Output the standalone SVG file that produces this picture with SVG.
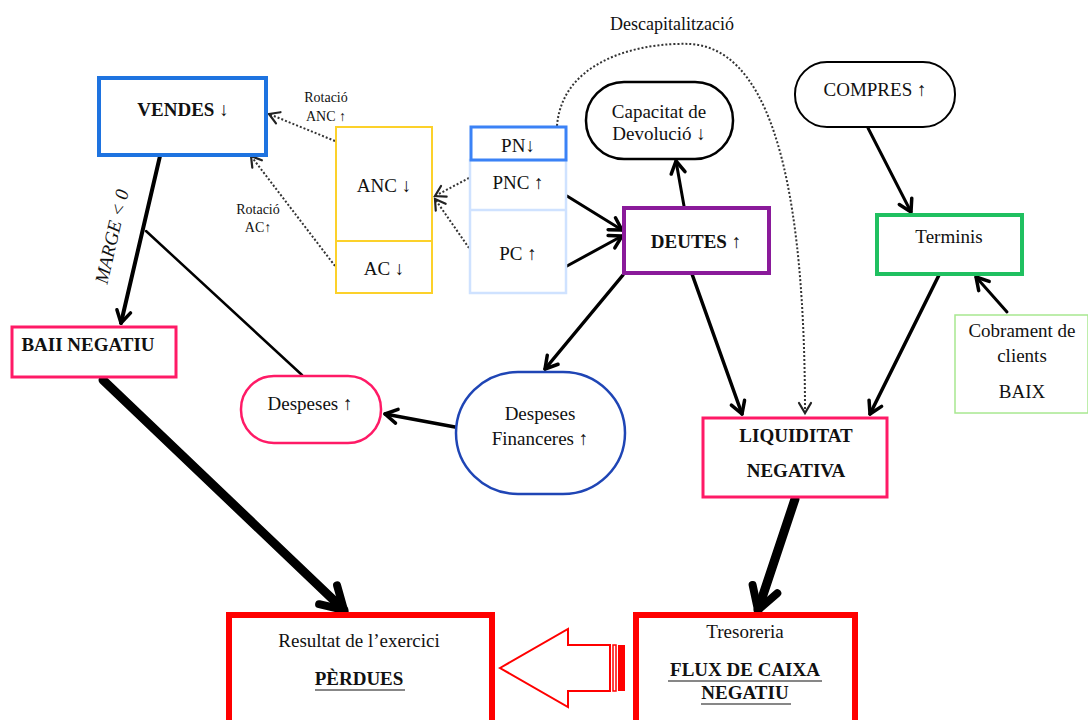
<svg xmlns="http://www.w3.org/2000/svg" width="1088" height="720" viewBox="0 0 1088 720">
<defs>
<style>
text{font-family:"Liberation Serif","Times New Roman",serif;fill:#111;text-anchor:middle}
.b{font-weight:bold}
.s{font-size:14px}
.m{font-size:19px}
.ln{stroke:#000;fill:none;stroke-linecap:round}
.dot{stroke:#333;fill:none;stroke-width:2;stroke-dasharray:2 2}
</style>
<marker id="ah" markerUnits="userSpaceOnUse" viewBox="-20 -15 25 30" markerWidth="25" markerHeight="30" refX="0" refY="0" orient="auto" overflow="visible">
<path d="M-12,-7 L0,0 L-12,7" fill="none" stroke="#000" stroke-width="3.5" stroke-linecap="round" stroke-linejoin="round"/>
</marker>
<marker id="ahd" markerUnits="userSpaceOnUse" viewBox="-20 -15 25 30" markerWidth="25" markerHeight="30" refX="0" refY="0" orient="auto" overflow="visible">
<path d="M-10,-6 L0,0 L-10,6" fill="none" stroke="#222" stroke-width="2.2" stroke-linecap="round"/>
</marker>
<marker id="ahb" markerUnits="userSpaceOnUse" viewBox="-40 -30 45 60" markerWidth="45" markerHeight="60" refX="0" refY="0" orient="auto" overflow="visible">
<path d="M-22,-13 L0,0 L-22,13" fill="none" stroke="#000" stroke-width="8" stroke-linecap="round" stroke-linejoin="miter"/>
</marker>
</defs>
<rect width="1088" height="720" fill="#fff"/>

<g id="connectors">
<line class="ln" x1="160" y1="156" x2="121" y2="323" stroke-width="4" marker-end="url(#ah)"/>
<line class="ln" x1="146" y1="231" x2="302" y2="375" stroke-width="2.5"/>
<line class="ln" x1="103" y1="380" x2="344" y2="610" stroke-width="9" marker-end="url(#ahb)"/>
<line class="ln" x1="795" y1="499" x2="758" y2="610" stroke-width="9" marker-end="url(#ahb)"/>
<line class="ln" x1="455" y1="427" x2="385" y2="414" stroke-width="3.5" marker-end="url(#ah)"/>
<line class="ln" x1="623" y1="275" x2="545" y2="369" stroke-width="3.5" marker-end="url(#ah)"/>
<line class="ln" x1="567" y1="196" x2="622" y2="230" stroke-width="3" marker-end="url(#ah)"/>
<line class="ln" x1="567" y1="266" x2="622" y2="236" stroke-width="3" marker-end="url(#ah)"/>
<line class="ln" x1="684" y1="206" x2="676" y2="161" stroke-width="3" marker-end="url(#ah)"/>
<line class="ln" x1="692" y1="274" x2="742" y2="414" stroke-width="3.5" marker-end="url(#ah)"/>
<line class="ln" x1="939" y1="275" x2="870" y2="414" stroke-width="3.5" marker-end="url(#ah)"/>
<line class="ln" x1="868" y1="128" x2="911" y2="212" stroke-width="3" marker-end="url(#ah)"/>
<line class="ln" x1="1007" y1="312" x2="976" y2="277" stroke-width="3" marker-end="url(#ah)"/>
<line class="dot" x1="335" y1="141" x2="269" y2="114" marker-end="url(#ahd)"/>
<line class="dot" x1="335" y1="266" x2="251" y2="156" marker-end="url(#ahd)"/>
<line class="dot" x1="469" y1="178" x2="435" y2="196" marker-end="url(#ahd)"/>
<line class="dot" x1="469" y1="248" x2="435" y2="199" marker-end="url(#ahd)"/>
<path class="dot" d="M557,126 C562,60 640,42 690,44 C760,48 805,150 805,413" marker-end="url(#ahd)"/>
<text class="s" x="326" y="102">Rotació</text>
<text class="s" x="326" y="121">ANC ↑</text>
<text class="s" x="258" y="214">Rotació</text>
<text class="s" x="258" y="232">AC↑</text>
<text x="672" y="30" style="font-size:18px">Descapitalització</text>
<text class="m" style="font-style:italic" transform="translate(118,238) rotate(-77)">MARGE &lt; 0</text>
</g>

<g id="vendes">
<rect x="99" y="78" width="167" height="77" fill="#fff" stroke="#1e73e0" stroke-width="4"/>
<text class="m b" x="183" y="116">VENDES ↓</text>
</g>

<g id="anc">
<rect x="336" y="127" width="96" height="166" fill="#fff" stroke="#fcd12a" stroke-width="2"/>
<line x1="336" y1="241" x2="432" y2="241" stroke="#fcd12a" stroke-width="2"/>
<text class="m" x="384" y="192">ANC ↓</text>
<text class="m" x="384" y="275">AC ↓</text>
</g>

<g id="passiu">
<rect x="470" y="160" width="96" height="133" fill="#fff" stroke="#cfe2ff" stroke-width="2.5"/>
<line x1="470" y1="210" x2="566" y2="210" stroke="#cfe2ff" stroke-width="2.5"/>
<rect x="471" y="127" width="95" height="33" fill="#fff" stroke="#3b82f6" stroke-width="3"/>
<text class="m" x="518" y="152">PN↓</text>
<text class="m" x="518" y="189">PNC ↑</text>
<text class="m" x="518" y="260">PC ↑</text>
</g>

<g id="capacitat">
<rect x="586" y="82" width="147" height="77" rx="38" fill="#fff" stroke="#000" stroke-width="2.5"/>
<text class="m" x="659" y="118">Capacitat de</text>
<text class="m" x="659" y="140">Devolució ↓</text>
</g>

<g id="deutes">
<rect x="624" y="208" width="145" height="65" fill="#fff" stroke="#8a1a9a" stroke-width="4"/>
<text class="m b" x="696" y="248">DEUTES ↑</text>
</g>

<g id="compres">
<rect x="795" y="62" width="160" height="65" rx="32" fill="#fff" stroke="#000" stroke-width="2"/>
<text class="m" x="875" y="96">COMPRES ↑</text>
</g>

<g id="terminis">
<rect x="877" y="215" width="145" height="59" fill="#fff" stroke="#20c060" stroke-width="4"/>
<text class="m" x="949" y="243">Terminis</text>
</g>

<g id="cobrament">
<rect x="955" y="315" width="133" height="98" fill="#fff" stroke="#a8e890" stroke-width="1.5"/>
<text class="m" x="1022" y="337">Cobrament de</text>
<text class="m" x="1022" y="362">clients</text>
<text class="m" x="1022" y="398">BAIX</text>
</g>

<g id="liquiditat">
<rect x="703" y="418" width="184" height="79" fill="#fff" stroke="#ff1a66" stroke-width="3"/>
<text class="m b" x="796" y="442">LIQUIDITAT</text>
<text class="m b" x="796" y="477">NEGATIVA</text>
</g>

<g id="financeres">
<rect x="456" y="372" width="169" height="122" rx="62" ry="61" fill="#fff" stroke="#1f45b5" stroke-width="2.5"/>
<text class="m" x="540" y="420">Despeses</text>
<text class="m" x="540" y="445">Financeres ↑</text>
</g>

<g id="despeses">
<rect x="241" y="376" width="140" height="67" rx="33" fill="#fff" stroke="#ff1a66" stroke-width="2.5"/>
<text class="m" x="310" y="410">Despeses ↑</text>
</g>

<g id="baii">
<rect x="12" y="327" width="164" height="50" fill="#fff" stroke="#ff1a66" stroke-width="3"/>
<text class="m b" x="88" y="351">BAII NEGATIU</text>
</g>

<g id="resultat">
<rect x="229" y="615" width="263" height="115" fill="#fff" stroke="#ff0000" stroke-width="6"/>
<text class="m" x="359" y="647">Resultat de l’exercici</text>
<text class="m b" x="359" y="685">PÈRDUES</text>
<line x1="315" y1="690" x2="405" y2="690" stroke="#111" stroke-width="1.2"/>
</g>

<g id="tresoreria">
<rect x="636" y="615" width="219" height="115" fill="#fff" stroke="#ff0000" stroke-width="6"/>
<text class="m" x="745" y="638">Tresoreria</text>
<text class="m b" x="745" y="676">FLUX DE CAIXA</text>
<line x1="668" y1="681" x2="822" y2="681" stroke="#111" stroke-width="1.2"/>
<text class="m b" x="745" y="699">NEGATIU</text>
<line x1="701" y1="704" x2="791" y2="704" stroke="#111" stroke-width="1.2"/>
</g>

<g id="bigarrow">
<polygon points="500,668 568,629 568,645 610,645 610,691 568,691 568,707" fill="#fff" stroke="#ff0000" stroke-width="2"/>
<rect x="613" y="645" width="3" height="46" fill="#fff" stroke="#ff0000" stroke-width="1.5"/>
<rect x="618" y="645" width="7" height="46" fill="#ff0000"/>
</g>
</svg>
